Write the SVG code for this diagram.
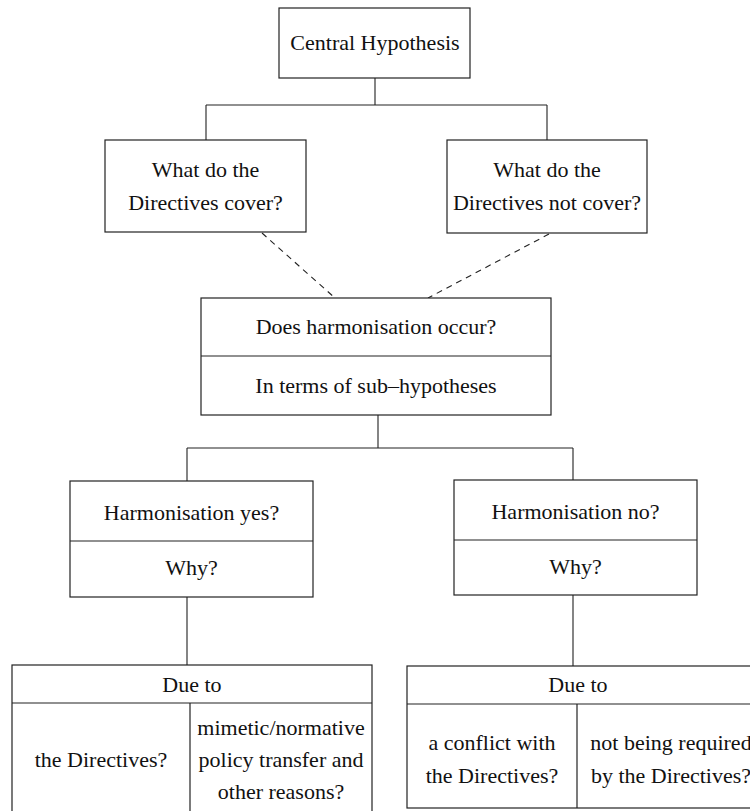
<svg xmlns="http://www.w3.org/2000/svg" width="750" height="811" viewBox="0 0 750 811">
  <style>
    .box { fill: #ffffff; stroke: #222222; stroke-width: 1.2; }
    .div { stroke: #222222; stroke-width: 1.2; fill: none; }
    .conn { stroke: #222222; stroke-width: 1.1; fill: none; }
    .dash { stroke: #222222; stroke-width: 1.1; fill: none; stroke-dasharray: 6 5; }
    text { font-family: "Liberation Serif", "Times New Roman", serif; font-size: 22px; fill: #111111; text-anchor: middle; }
  </style>
  <rect width="750" height="811" fill="#ffffff"/>

  <!-- connectors -->
  <g id="connectors">
    <path class="conn" d="M375 78 V105 M206 105 H547 M206 105 V140 M547 105 V140"/>
    <path class="dash" d="M262 233 L335 298"/>
    <path class="dash" d="M549 234 L428 298"/>
    <path class="conn" d="M378 415 V448 M187 448 H573 M187 448 V481 M573 448 V480"/>
    <path class="conn" d="M187 597 V665 M573 595 V666"/>
  </g>

  <g id="central">
    <rect class="box" x="279" y="8" width="191" height="70"/>
    <text x="375" y="50">Central Hypothesis</text>
  </g>

  <g id="covered">
    <rect class="box" x="105" y="140" width="201" height="92"/>
    <text x="205.5" y="177">What do the</text>
    <text x="205.5" y="210">Directives cover?</text>
  </g>

  <g id="not-covered">
    <rect class="box" x="447" y="140" width="200" height="93"/>
    <text x="547" y="177">What do the</text>
    <text x="547" y="210">Directives not cover?</text>
  </g>

  <g id="harmonisation">
    <rect class="box" x="201" y="298" width="350" height="117"/>
    <line class="div" x1="201" y1="356" x2="551" y2="356"/>
    <text x="376" y="334">Does harmonisation occur?</text>
    <text x="376" y="393">In terms of sub–hypotheses</text>
  </g>

  <g id="yes">
    <rect class="box" x="70" y="481" width="243" height="116"/>
    <line class="div" x1="70" y1="541" x2="313" y2="541"/>
    <text x="191.5" y="520">Harmonisation yes?</text>
    <text x="191.5" y="575">Why?</text>
  </g>

  <g id="no">
    <rect class="box" x="454" y="480" width="243" height="115"/>
    <line class="div" x1="454" y1="540" x2="697" y2="540"/>
    <text x="575.5" y="519">Harmonisation no?</text>
    <text x="575.5" y="574">Why?</text>
  </g>

  <g id="yes-reasons">
    <rect class="box" x="12" y="665" width="360" height="160"/>
    <line class="div" x1="12" y1="703" x2="372" y2="703"/>
    <line class="div" x1="190" y1="703" x2="190" y2="825"/>
    <text x="192" y="692">Due to</text>
    <text x="101" y="767">the Directives?</text>
    <text x="281" y="735">mimetic/normative</text>
    <text x="281" y="767">policy transfer and</text>
    <text x="281" y="799">other reasons?</text>
  </g>

  <g id="no-reasons">
    <rect class="box" x="407" y="666" width="360" height="142"/>
    <line class="div" x1="407" y1="704" x2="767" y2="704"/>
    <line class="div" x1="577" y1="704" x2="577" y2="808"/>
    <text x="578" y="692">Due to</text>
    <text x="492" y="750">a conflict with</text>
    <text x="492" y="783">the Directives?</text>
    <text x="671" y="750">not being required</text>
    <text x="671" y="783">by the Directives?</text>
  </g>
</svg>
